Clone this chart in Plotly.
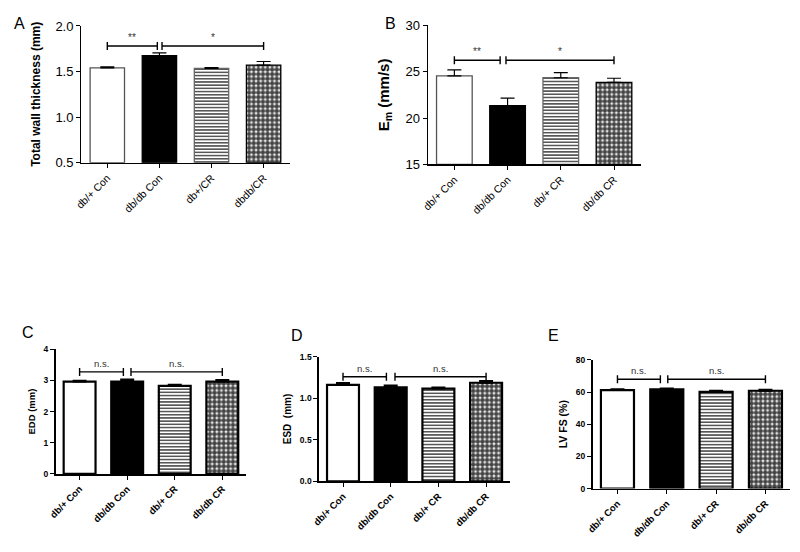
import plotly.graph_objects as go

# ---------------- data ----------------
cats_A = ["db/+ Con", "db/db Con", "db+/CR", "dbdb/CR"]
cats_B = ["db/+ Con", "db/db Con", "db/+ CR", "db/db CR"]
cats_CDE = ["db/+ Con", "db/db Con", "db/+ CR", "db/db CR"]

wall_mean = [1.54, 1.675, 1.535, 1.57]
wall_sem = [0.012, 0.03, 0.008, 0.04]

em_mean = [24.55, 21.35, 24.35, 23.85]
em_sem = [0.65, 0.8, 0.55, 0.45]

edd_mean = [2.96, 2.96, 2.82, 2.96]
edd_sem = [0.03, 0.07, 0.04, 0.05]

esd_mean = [1.16, 1.13, 1.115, 1.185]
esd_sem = [0.022, 0.022, 0.014, 0.02]

fs_mean = [61.2, 61.6, 60.1, 60.8]
fs_sem = [0.5, 0.6, 0.7, 0.6]

# significance brackets: (x_start, x_end, y, label)
br_A = [(0.0, 0.96, 1.78, "**"), (1.05, 3.0, 1.78, "*")]
br_B = [(0.0, 0.86, 26.25, "**"), (0.97, 3.0, 26.25, "*")]
br_C = [(0.0, 0.92, 3.27, "n.s."), (1.08, 3.0, 3.27, "n.s.")]
br_D = [(0.0, 0.91, 1.258, "n.s."), (1.09, 3.0, 1.258, "n.s.")]
br_E = [(0.0, 0.87, 67.9, "n.s."), (1.02, 3.0, 67.9, "n.s.")]

FONT = "Arial, Liberation Sans, sans-serif"
W, H = 800, 552


def px_dom(a, b, total, flip=False):
    if flip:
        return [1 - b / total, 1 - a / total]
    return [a / total, b / total]


panels = [
    dict(cats=cats_A, mean=wall_mean, sem=wall_sem, br=br_A,
         xd=px_dom(74, 284.5, W), yd=px_dom(19.5, 160, H, True),
         yr=[0.5, 2.0], dtick=0.5, fmt=".1f",
         title="Total wall thickness (mm)", tsize=12, tickfs=13, tickbold=False,
         xfs=10.5, xbold=False, lw=1.3, axw=1.2, bw=0.66, letter="A", lx=12, ly=17,
         starfs=10, standoff=12),
    dict(cats=cats_B, mean=em_mean, sem=em_sem, br=br_B,
         xd=px_dom(424, 639, W), yd=px_dom(19, 161.7, H, True),
         yr=[15, 30], dtick=5, fmt="d",
         title="E<sub>m</sub> (mm/s)", tsize=15, tickfs=13, tickbold=False,
         xfs=10.5, xbold=False, lw=1.3, axw=1.2, bw=0.67, letter="B", lx=386, ly=17,
         starfs=10, standoff=12),
    dict(cats=cats_CDE, mean=edd_mean, sem=edd_sem, br=br_C,
         xd=px_dom(48.3, 240.5, W), yd=px_dom(351.7, 480, H, True),
         yr=[0, 4], dtick=1, fmt="d",
         title="EDD (mm)", tsize=9.5, tickfs=8.5, tickbold=True,
         xfs=9.5, xbold=True, lw=2.2, axw=1.8, bw=0.67, letter="C", lx=20, ly=335,
         starfs=9.5, standoff=6),
    dict(cats=cats_CDE, mean=esd_mean, sem=esd_sem, br=br_D,
         xd=px_dom(314.3, 507, W), yd=px_dom(359.3, 487.7, H, True),
         yr=[0, 1.5], dtick=0.5, fmt=".1f",
         title="ESD  (mm)", tsize=10, tickfs=8.5, tickbold=True,
         xfs=9.5, xbold=True, lw=2.2, axw=1.8, bw=0.67, letter="D", lx=292, ly=338,
         starfs=9.5, standoff=6),
    dict(cats=cats_CDE, mean=fs_mean, sem=fs_sem, br=br_E,
         xd=px_dom(590.7, 790, W), yd=px_dom(362.7, 495, H, True),
         yr=[0, 80], dtick=20, fmt="d",
         title="LV FS (%)", tsize=10.5, tickfs=8.5, tickbold=True,
         xfs=9.5, xbold=True, lw=2.2, axw=1.8, bw=0.67, letter="E", lx=551, ly=338,
         starfs=9.5, standoff=6),
]

fig = go.Figure()
shapes = []
annotations = []

for i, p in enumerate(panels, start=1):
    xa = "x" if i == 1 else f"x{i}"
    ya = "y" if i == 1 else f"y{i}"
    xkey = "xaxis" if i == 1 else f"xaxis{i}"
    ykey = "yaxis" if i == 1 else f"yaxis{i}"
    ab = i <= 2
    line_cols = ["#555555", "#000000", "#666666", "#000000"] if ab else ["#000000"] * 4
    fig.add_trace(go.Bar(
        x=list(range(len(p["cats"]))),
        y=[m - p["yr"][0] for m in p["mean"]],
        base=p["yr"][0],
        width=p["bw"],
        marker=dict(
            color=["white", "black", "white", "white"],
            line=dict(color=line_cols, width=p["lw"]),
            pattern=dict(shape=["", "", "-", "."],
                         fgcolor=["black", "black", "#8a8a8a", "black"],
                         fgopacity=1, size=[4, 4, 3.2, 4.6],
                         solidity=[0.3, 0.3, 0.45, 0.75],
                         fillmode="overlay"),
        ),
        error_y=dict(type="data", symmetric=False, array=p["sem"],
                     arrayminus=[0] * 4, color="black", thickness=p["lw"] * 0.9,
                     width=7),
        xaxis=xa, yaxis=ya, showlegend=False, hoverinfo="skip",
    ))

    fig.layout[xkey] = dict(
        domain=p["xd"], anchor=ya, range=[-0.5, 3.5],
        tickmode="array", tickvals=list(range(4)), ticktext=p["cats"],
        tickangle=-45, ticks="outside", ticklen=4, tickwidth=1,
        tickcolor="black", showline=True, linecolor="black", linewidth=p["axw"],
        showgrid=False, zeroline=False,
        tickfont=dict(family=FONT, size=p["xfs"], color="black",
                      weight="bold" if p["xbold"] else "normal"),
        fixedrange=True,
    )
    fig.layout[ykey] = dict(
        domain=p["yd"], anchor=xa, range=p["yr"], dtick=p["dtick"],
        tick0=p["yr"][0], tickformat=p["fmt"],
        ticks="outside", ticklen=4, tickwidth=1, tickcolor="black",
        showline=True, linecolor="black", linewidth=p["axw"],
        showgrid=False, zeroline=False,
        tickfont=dict(family=FONT, size=p["tickfs"], color="black",
                      weight="bold" if p["tickbold"] else "normal"),
        title=dict(text=p["title"], standoff=p["standoff"],
                   font=dict(family=FONT, size=p["tsize"], color="black",
                             weight="bold")),
        fixedrange=True,
    )

    for (x0, x1, yv, lab) in p["br"]:
        shapes.append(dict(type="line", xref=xa, yref=ya, x0=x0, x1=x1,
                           y0=yv, y1=yv, line=dict(color="black", width=1.4)))
        for xe in (x0, x1):
            shapes.append(dict(type="line", xref=xa, yref=ya, x0=xe, x1=xe,
                               ysizemode="pixel", yanchor=yv, y0=-4, y1=4,
                               line=dict(color="black", width=1.4)))
        annotations.append(dict(xref=xa, yref=ya, x=(x0 + x1) / 2, y=yv,
                                text=lab, showarrow=False, yanchor="bottom",
                                yshift=1,
                                font=dict(family=FONT, size=p["starfs"],
                                          color="#333333")))

    annotations.append(dict(xref="paper", yref="paper",
                            x=p["lx"] / W, y=1 - p["ly"] / H, text=p["letter"],
                            showarrow=False, xanchor="center", yanchor="middle",
                            font=dict(family=FONT, size=16, color="black")))

fig.update_layout(
    width=W, height=H, margin=dict(l=0, r=0, t=0, b=0),
    paper_bgcolor="white", plot_bgcolor="white",
    shapes=shapes, annotations=annotations, bargap=0,
    hovermode=False,
)

fig.write_html("out.html", config={"displayModeBar": False, "staticPlot": True},
               post_script="document.body.style.margin='0';document.body.style.overflow='hidden';")
